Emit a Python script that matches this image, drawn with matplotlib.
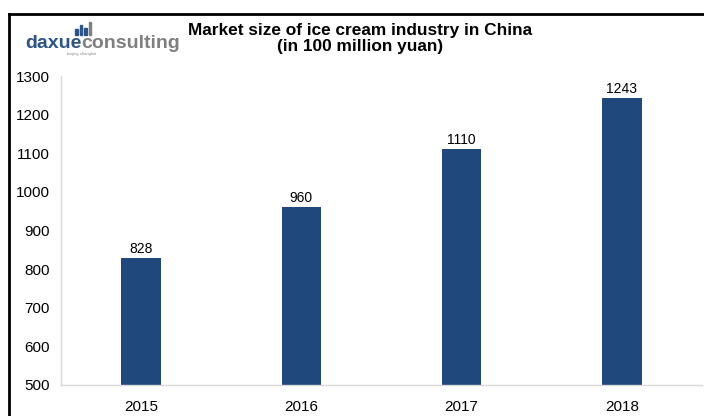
import matplotlib.pyplot as plt
from matplotlib.patches import Rectangle
from matplotlib.lines import Line2D

# Market size, 100 million yuan
years = ["2015", "2016", "2017", "2018"]
sizes = [828, 960, 1110, 1243]
y_ticks = [500, 600, 700, 800, 900, 1000, 1100, 1200, 1300]

plt.rcParams['font.family'] = ['Liberation Sans', 'DejaVu Sans']

fig = plt.figure(figsize=(7.04, 4.16), dpi=100)
ax = fig.add_axes([61 / 704, 31 / 416, 641 / 704, 309 / 416])

bars = ax.bar(range(len(years)), sizes, width=0.245, color="#1f497d")
for bar, v in zip(bars, sizes):
    ax.annotate(str(v), (bar.get_x() + bar.get_width() / 2, v),
                xytext=(0, 1.5), textcoords="offset points",
                ha="center", va="bottom", fontsize=10, color="#000000")

ax.set_xlim(-0.5, 3.5)
ax.set_ylim(500, 1300)
ax.set_xticks(range(len(years)))
ax.set_xticklabels(years)
ax.set_yticks(y_ticks)
ax.tick_params(length=0, labelsize=11, colors="#000000")
ax.tick_params(axis="x", pad=11)
ax.tick_params(axis="y", pad=8)
for side in ["top", "right"]:
    ax.spines[side].set_visible(False)
for side in ["left", "bottom"]:
    ax.spines[side].set_color("#d9d9d9")
    ax.spines[side].set_linewidth(1.0)

# Title
fig.text(360 / 704, 1 - 31 / 416, "Market size of ice cream industry in China",
         ha="center", va="center", fontsize=12.4, fontweight="bold")
fig.text(360 / 704, 1 - 47 / 416, "(in 100 million yuan)",
         ha="center", va="center", fontsize=12.4, fontweight="bold")

# Logo
t = fig.text(25 / 704, 1 - 48 / 416, "daxue", ha="left", va="baseline",
             fontsize=14, fontweight="bold", color="#2c5489")
fig.canvas.draw()
bb = t.get_window_extent()
fig.text(bb.x1 / 704, 1 - 48 / 416, "consulting", ha="left", va="baseline",
         fontsize=14, fontweight="bold", color="#7f7f7f")
fig.text(82 / 704, 1 - 55 / 416, "beijing shanghai", ha="center", va="baseline",
         fontsize=3, color="#8a8a8a")
for x0, h, c in [(75, 6, "#2c5489"), (79.5, 10, "#2c5489"),
                 (84, 7, "#2c5489"), (88.5, 13, "#7f7f7f")]:
    fig.patches.append(Rectangle((x0 / 704, 1 - 35 / 416), 2.5 / 704, h / 416,
                                 transform=fig.transFigure, color=c))

# Frame lines at top and left
fig.add_artist(Line2D([9 / 704, 1], [1 - 13.5 / 416] * 2, transform=fig.transFigure,
                      color="black", linewidth=2))
fig.add_artist(Line2D([9 / 704] * 2, [0, 1 - 13.5 / 416], transform=fig.transFigure,
                      color="black", linewidth=2))

fig.savefig("out.png", dpi=100)
